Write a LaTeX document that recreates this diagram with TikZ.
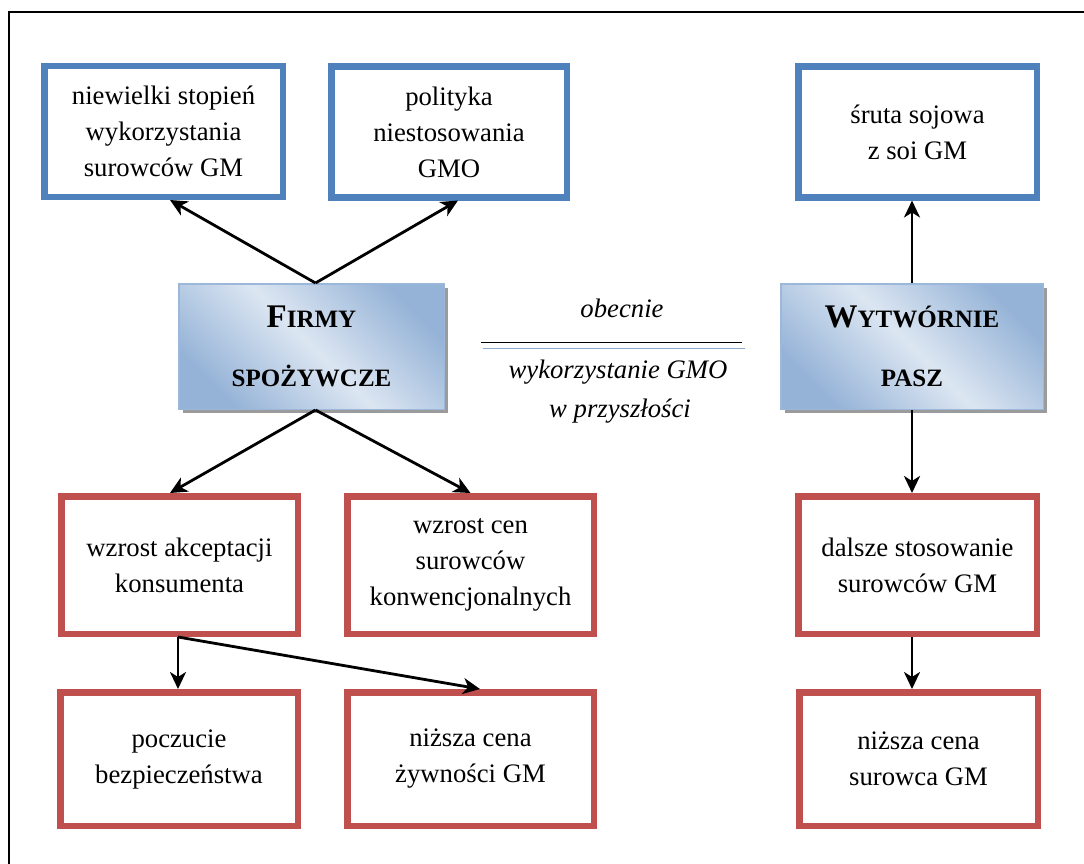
\documentclass[tikz,border=0pt]{standalone}
\usepackage{fontspec}
\setmainfont{Liberation Serif}
\usetikzlibrary{arrows.meta,shadows,calc}
\definecolor{bblue}{HTML}{4F81BD}
\definecolor{rred}{HTML}{C0504D}
\definecolor{gdark}{HTML}{95B3D7}
\definecolor{glight}{HTML}{DCE6F2}
\definecolor{gline}{HTML}{9BB7DA}
\definecolor{sepblue}{HTML}{8DA9CC}
\newcommand{\mysc}[1]{{\fontsize{25}{55}\selectfont #1}}
\begin{document}
\begin{tikzpicture}[x=1pt,y=-1pt,
  txt/.style={font=\fontsize{26.7}{36}\selectfont, align=center, inner sep=0pt},
  itx/.style={font=\itshape\fontsize{26.7}{36}\selectfont, inner sep=0pt},
  bluebox/.style={txt, draw=bblue, line width=6.5pt, fill=white, minimum width=#1, minimum height=130.5pt},
  redbox/.style={txt, draw=rred, line width=6.5pt, fill=white, minimum width=#1, minimum height=137.5pt},
  redboxb/.style={txt, draw=rred, line width=6.5pt, fill=white, minimum width=#1, minimum height=133.5pt},
  centerbox/.style={font=\bfseries\fontsize{33}{55}\selectfont, align=center, inner sep=0pt,
    draw=gline, line width=1.5pt, minimum width=#1, minimum height=125.5pt,
    top color=gdark, bottom color=gdark, middle color=glight, shading angle=-45,
    drop shadow={shadow xshift=4pt, shadow yshift=-4pt, fill=gray!70!black, opacity=0.6}},
  arr/.style={line width=2.8pt, -{Stealth[length=17pt, width=16pt, inset=5pt]}}
]
\useasboundingbox (0,0) rectangle (1084,864);
\begin{scope}
\clip (0,0) rectangle (1084,864);
\draw[line width=2pt] (8.5,12.5) rectangle (1100,880);
\end{scope}

% top blue boxes
\node[bluebox=238.5pt] (B1) at (163.5,131.5) {niewielki stopień\\wykorzystania\\surowców GM};
\node[bluebox=235.5pt] (B2) at (449,132) {polityka\\niestosowania\\GMO};
\node[bluebox=238.5pt] (B3) at (917.5,132) {śruta sojowa\\z soi GM};

% center boxes
\node[centerbox=265.5pt] (F) at (311.5,346.5) {\raisebox{4pt}{F\mysc{IRMY}}\\\mysc{SPOŻYWCZE}};
\node[centerbox=262.5pt] (W) at (912,346.5) {\raisebox{4pt}{W\mysc{YTWÓRNIE}}\\\mysc{PASZ}};

% middle labels
\node[itx, anchor=base] (ob) at (622,317) {obecnie};
\node[itx, anchor=base] (wy) at (618,378) {wykorzystanie GMO};
\node[itx, anchor=base] (wp) at (620,417) {w przyszłości};
\draw[line width=1.5pt] (481,342.5) -- (742,342.5);
\draw[line width=1pt, sepblue] (483,348) -- (745,348);

% red boxes
\node[redbox=236.5pt] (R1) at (179.5,565) {wzrost akceptacji\\konsumenta};
\node[redbox=246.5pt] (R2) at (470.5,565) {wzrost cen\\surowców\\konwencjonalnych};
\node[redbox=238.5pt] (R3) at (917.5,565) {dalsze stosowanie\\surowców GM};
\node[redboxb=237.5pt] (R4) at (179,759) {poczucie\\bezpieczeństwa};
\node[redboxb=246.5pt] (R5) at (470.5,759) {niższa cena\\żywności GM};
\node[redboxb=238.5pt] (R6) at (918.5,759) {niższa cena\\surowca GM};

% connectors
\coordinate (Ft) at ([xshift=4pt]F.north);
\coordinate (Fb) at ([xshift=4pt]F.south);
\coordinate (R1b) at ([xshift=-1.5pt]R1.south);
\draw[arr] (Ft) -- ([xshift=6.5pt]B1.south);
\draw[arr] (Ft) -- ([xshift=9pt]B2.south);
\draw[arr] (W.north) -- (W.north |- B3.south);
\draw[arr] (Fb) -- ([xshift=-9.5pt]R1.north);
\draw[arr] (Fb) -- (R2.north);
\draw[arr] (W.south) -- (W.south |- R3.north);
\draw[arr] (R1b) -- (R1b |- R4.north);
\draw[arr] (R1b) -- ([xshift=9.5pt]R5.north);
\draw[arr] (W.south |- R3.south) -- (W.south |- R6.north);
\end{tikzpicture}
\end{document}
